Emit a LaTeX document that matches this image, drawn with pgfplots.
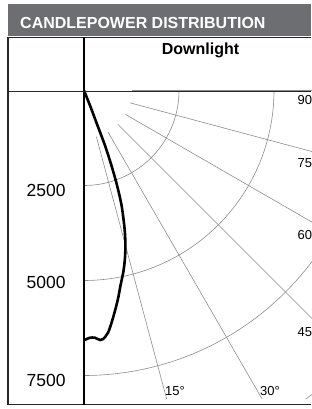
\documentclass[border=0pt]{standalone}
\usepackage{fontspec}
\setmainfont{Liberation Sans}
\usepackage{pgfplots}
\usepackage{pgfplotstable}
\pgfplotsset{compat=1.18}
\definecolor{hdr}{RGB}{109,110,113}
\definecolor{gridc}{RGB}{140,140,140}
\pgfplotstableread{
ang cd
0    6567
0.5  6548
1.4  6508
2.5  6512
3.7  6580
4.4  6560
5.7  6400
7.2  6049
9.1  5597
10.6 5222
12.4 4850
14.0 4475
15.4 4095
16.6 3708
18.1 3182
19.2 2648
20.1 2103
20.9 1550
21.1 987
21.8 425
22   0
}\cpdata
\begin{document}
\begin{tikzpicture}[x=1pt,y=1pt]
\useasboundingbox (0,0) rectangle (311,-409);
\fill[hdr] (8,-4) rectangle (311,-36.5);
\node[anchor=base west, text=white, font=\bfseries\fontsize{16}{16}\selectfont, inner sep=0] at (20,-28.3) {CANDLEPOWER DISTRIBUTION};
\node[anchor=base, font=\bfseries\fontsize{16}{16}\selectfont, inner sep=0] at (200.5,-54.7) {Downlight};
\begin{axis}[at={(82.48pt,-88.98pt)}, anchor=north west, x=0.038pt, y=0.038pt,
  xmin=-40, xmax=6000, ymin=-8118, ymax=40, axis lines=none, ticks=none]
\pgfplotsinvokeforeach{2500,5000,7500,10000}{
  \addplot[gridc, line width=0.6pt, domain=0:90, samples=91] ({#1*sin(x)},{-#1*cos(x)});
}
\pgfplotsinvokeforeach{15,30,45,60,75,90}{
  \addplot[gridc, line width=0.6pt, domain=1260:12000, samples=2] ({x*sin(#1)},{-x*cos(#1)});
}
\addplot[black, line width=2.6pt, smooth] table[x expr={\thisrow{cd}*sin(\thisrow{ang})}, y expr={-\thisrow{cd}*cos(\thisrow{ang})}] {\cpdata};
\end{axis}
\draw[line width=1.2pt, black!85] (8,-37.3) -- (311,-37.3);
\draw[line width=1.3pt, black!85] (8,-37.3) -- (8,-404.5) -- (311,-404.5);
\draw[line width=1.3pt, black] (84,-37.3) -- (84,-404.5);
\draw[line width=1.2pt, black!85] (8,-91.7) -- (311,-91.7);
\begin{scope}[every node/.style={inner sep=0, font=\fontsize{17.5}{17.5}\selectfont}]
\node at (46.2,-190.5) {2500};
\node at (46.2,-282) {5000};
\node at (46.2,-380) {7500};
\end{scope}
\begin{scope}[every node/.style={inner sep=0, anchor=base west, font=\fontsize{13}{13}\selectfont}]
\node at (297.5,-104.5) {90°};
\node at (297.5,-167) {75°};
\node at (297.5,-239.5) {60°};
\node at (297.5,-336.5) {45°};
\node at (165,-395) {15°};
\node at (260,-395) {30°};
\end{scope}
\end{tikzpicture}
\end{document}
